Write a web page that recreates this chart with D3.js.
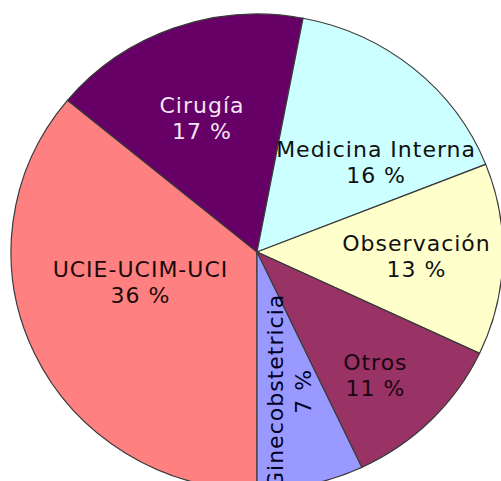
<!DOCTYPE html>
<html>
<head>
<meta charset="utf-8">
<script src="https://cdn.jsdelivr.net/npm/d3@7"></script>
<style>
  html, body { margin: 0; padding: 0; background: #fff; }
  svg { display: block; }
</style>
</head>
<body>
<div id="chart"></div>
<script>
// servicios y porcentajes
const categories = ['UCIE-UCIM-UCI', 'Cirugía', 'Medicina Interna', 'Observación', 'Otros', 'Ginecobstetricia'];
const values = [36, 17, 16, 13, 11, 7];
const colors = ['#ff8080', '#660066', '#ccffff', '#ffffcc', '#993366', '#9999ff'];
const textColors = ['#1a0a0a', '#f4e4f4', '#111', '#111', '#1a0510', '#000022'];

let width = 501,
    height = 481;

// the picture is a bit wider than tall
let cx = 257, cy = 252,
    ry = 238, sx = 246 / 238;

// label nudges (display px) away from the arc centroid
const nudges = [[17, -31], [-5, 0], [25, 20], [12, 0], [14, 22], [0, 0]];

let svg = d3.select('#chart').append('svg')
  .attr('width', width)
  .attr('height', height);

let pie = d3.pie()
  .sort(null)
  .startAngle(Math.PI)
  .endAngle(3 * Math.PI)
  .value(d => d);

let arcs = pie(values);

let arc = d3.arc().innerRadius(0).outerRadius(ry);
let labelArc = d3.arc().innerRadius(ry * 0.6).outerRadius(ry * 0.6);

let g = svg.append('g')
  .attr('transform', `translate(${cx},${cy}) scale(${sx},1)`);

g.selectAll('path.slice')
  .data(arcs)
  .enter().append('path')
    .attr('class', 'slice')
    .attr('d', arc)
    .style('fill', (d, i) => colors[i])
    .style('stroke', '#3a3a3a')
    .style('stroke-width', 1.2)
    .attr('vector-effect', 'non-scaling-stroke');

let labels = svg.append('g')
  .attr('transform', `translate(${cx},${cy})`)
  .style('font-family', '"DejaVu Sans", Verdana, sans-serif')
  .style('font-size', '22px')
  .style('letter-spacing', '1px');

labels.selectAll('text')
  .data(arcs)
  .enter().append('text')
    .attr('text-anchor', 'middle')
    .attr('transform', (d, i) => {
      let c = labelArc.centroid(d);
      let x = c[0] * sx + nudges[i][0],
          y = c[1] + nudges[i][1];
      let rot = categories[i] === 'Ginecobstetricia' ? ' rotate(-90)' : '';
      return `translate(${x},${y})${rot}`;
    })
    .style('fill', (d, i) => textColors[i])
    .each(function(d, i) {
      let t = d3.select(this);
      let gap = categories[i] === 'Ginecobstetricia' ? 14 : 13;
      t.append('tspan')
        .attr('x', 0)
        .attr('y', -gap)
        .attr('dy', '0.36em')
        .text(categories[i]);
      t.append('tspan')
        .attr('x', 0)
        .attr('y', gap)
        .attr('dy', '0.36em')
        .text(values[i] + ' %');
    });
</script>
</body>
</html>
